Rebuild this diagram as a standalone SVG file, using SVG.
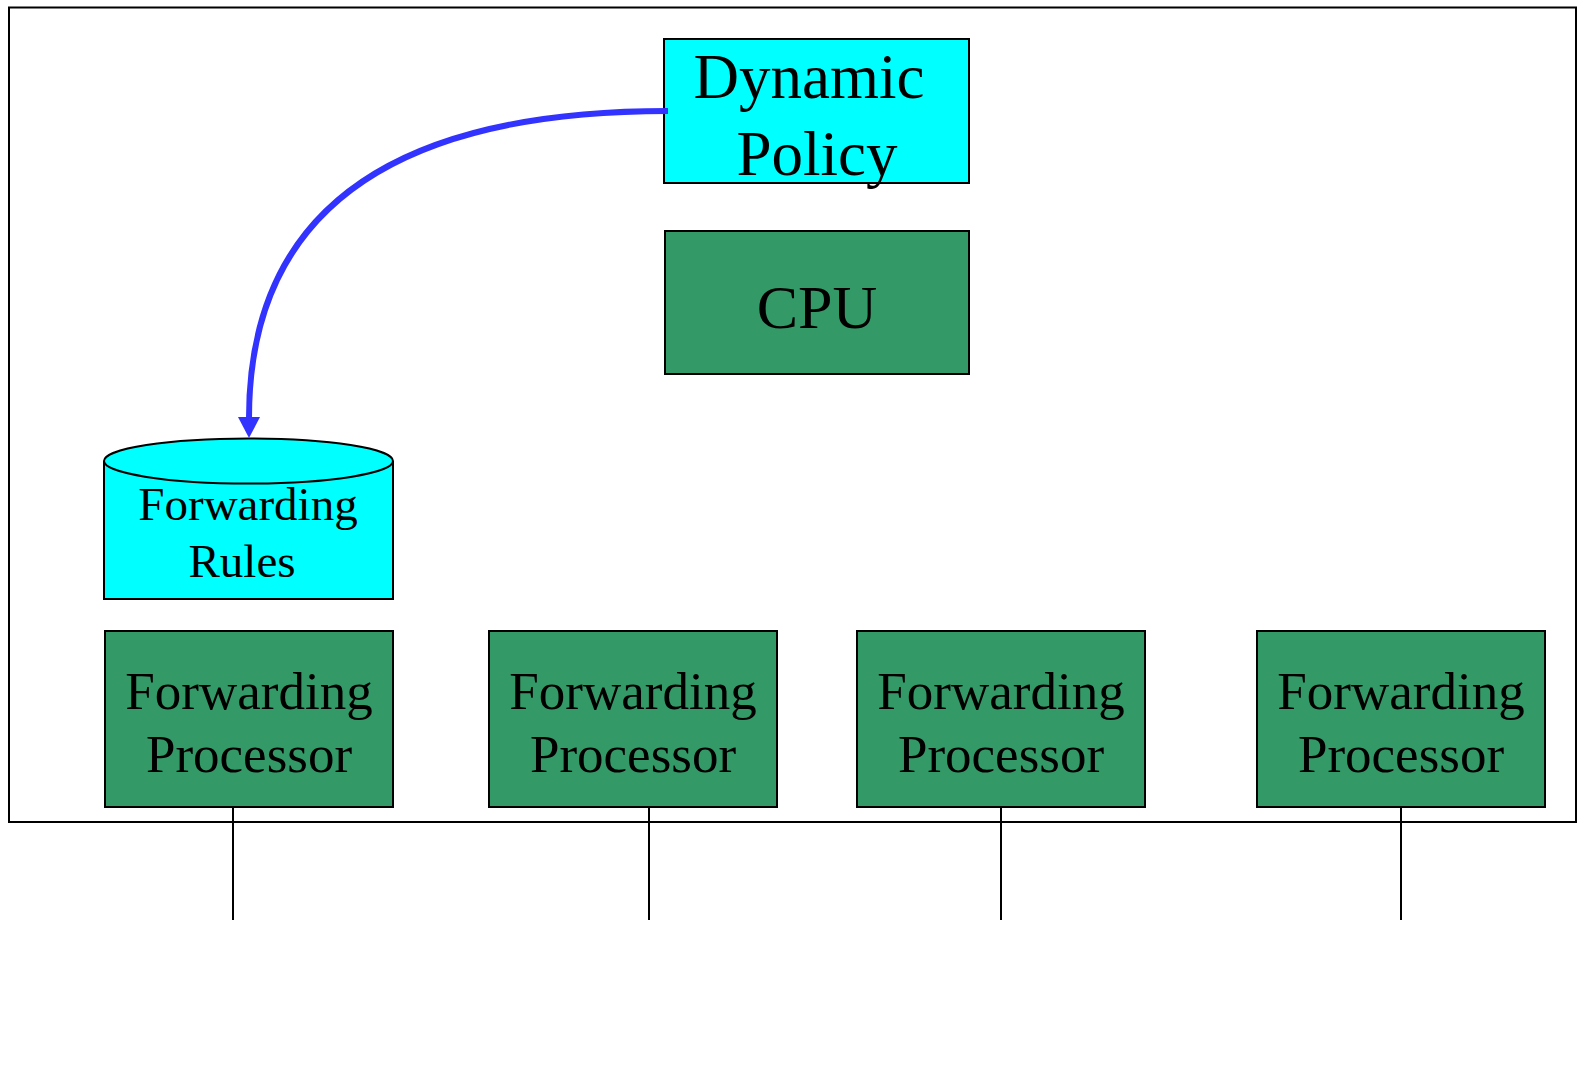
<svg xmlns="http://www.w3.org/2000/svg" width="1577" height="1074" viewBox="0 0 1577 1074">
  <style>
    .frame { fill: none; stroke: #000; stroke-width: 2; }
    .cyan { fill: #00FFFF; stroke: #000; stroke-width: 2; }
    .green { fill: #339966; stroke: #000; stroke-width: 2; }
    .lbl { font-family: "Liberation Serif", "Times New Roman", serif; fill: #000; text-anchor: middle; }
    .link { stroke: #000; stroke-width: 2; fill: none; }
    .flow { stroke: #3333FF; stroke-width: 6; fill: none; }
  </style>
  <defs>
    <marker id="arrow" markerUnits="userSpaceOnUse" markerWidth="26" markerHeight="26" refX="1" refY="11" orient="auto" overflow="visible">
      <polygon points="0,0 21,11 0,22" fill="#3333FF"/>
    </marker>
  </defs>
  <rect width="1577" height="1074" fill="#fff"/>

  <!-- chassis outline -->
  <rect class="frame" x="9" y="7.5" width="1567" height="814.5"/>

  <g id="dynamic-policy">
    <rect class="cyan" x="664" y="39" width="305" height="144"/>
    <text class="lbl" font-size="63" x="809" y="98">Dynamic</text>
    <text class="lbl" font-size="63" x="817" y="175">Policy</text>
  </g>

  <g id="cpu">
    <rect class="green" x="665" y="231" width="304" height="143"/>
    <text class="lbl" font-size="62" x="817" y="328">CPU</text>
  </g>

  <g id="forwarding-rules">
    <path class="cyan" d="M104,461 L104,599 L393,599 L393,461"/>
    <ellipse class="cyan" cx="248.5" cy="461" rx="144.5" ry="22.5"/>
    <text class="lbl" font-size="47" x="248" y="520">Forwarding</text>
    <text class="lbl" font-size="47" x="242" y="577">Rules</text>
  </g>

  <g id="fp1">
    <rect class="green" x="105" y="631" width="288" height="176"/>
    <text class="lbl" font-size="53" x="249" y="709">Forwarding</text>
    <text class="lbl" font-size="53" x="249" y="772">Processor</text>
  </g>
  <g id="fp2">
    <rect class="green" x="489" y="631" width="288" height="176"/>
    <text class="lbl" font-size="53" x="633" y="709">Forwarding</text>
    <text class="lbl" font-size="53" x="633" y="772">Processor</text>
  </g>
  <g id="fp3">
    <rect class="green" x="857" y="631" width="288" height="176"/>
    <text class="lbl" font-size="53" x="1001" y="709">Forwarding</text>
    <text class="lbl" font-size="53" x="1001" y="772">Processor</text>
  </g>
  <g id="fp4">
    <rect class="green" x="1257" y="631" width="288" height="176"/>
    <text class="lbl" font-size="53" x="1401" y="709">Forwarding</text>
    <text class="lbl" font-size="53" x="1401" y="772">Processor</text>
  </g>

  <g id="connectors">
    <path class="flow" d="M668,111 C380,111 249,220 249,418" marker-end="url(#arrow)"/>
    <line class="link" x1="233" y1="807" x2="233" y2="920"/>
    <line class="link" x1="649" y1="807" x2="649" y2="920"/>
    <line class="link" x1="1001" y1="807" x2="1001" y2="920"/>
    <line class="link" x1="1401" y1="807" x2="1401" y2="920"/>
  </g>
</svg>
